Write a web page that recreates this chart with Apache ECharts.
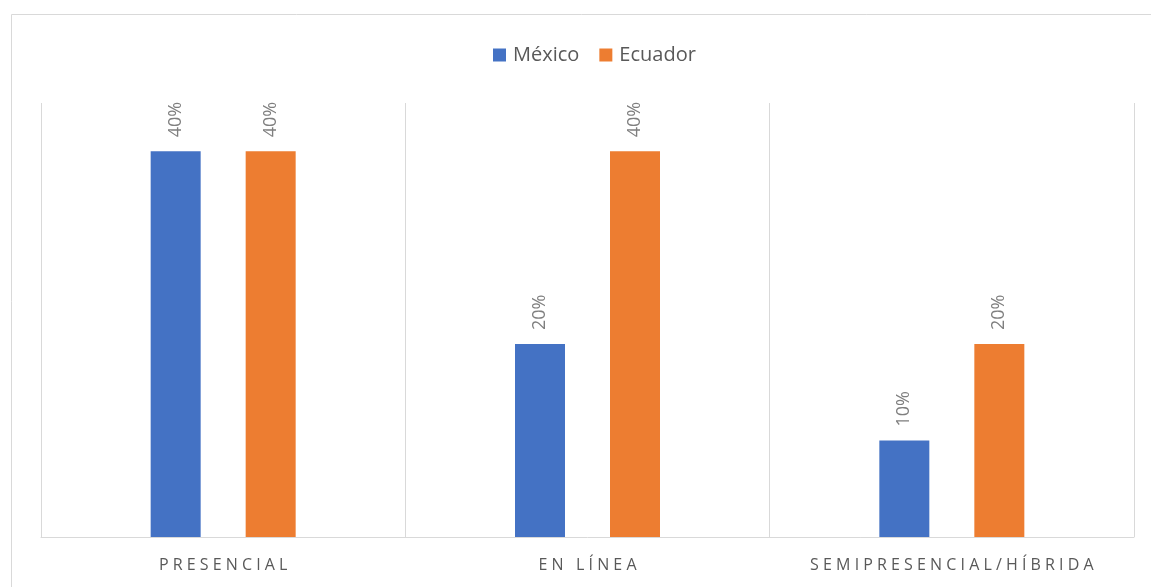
<!DOCTYPE html>
<html><head><meta charset="utf-8">
<script src="https://cdn.jsdelivr.net/npm/echarts@6/dist/echarts.min.js"></script>
<style>html,body{margin:0;padding:0;background:#fff}#c{width:1151px;height:587px}</style>
</head><body><div id="c"></div>
<script>
const categories = ['PRESENCIAL', 'EN LÍNEA', 'SEMIPRESENCIAL/HÍBRIDA'];
const mexico = [40, 20, 10];
const ecuador = [40, 40, 20];
const seriesNames = ['México', 'Ecuador'];

const chart = echarts.init(document.getElementById('c'));
const labelCfg = {
  show: true, position: 'top', rotate: 90, align: 'left', verticalAlign: 'middle',
  distance: 14, color: '#7f7f7f', fontSize: 18, fontFamily: 'Open Sans, sans-serif',
  formatter: p => p.value + '%'
};
chart.setOption({
  animation: false,
  graphic: [{ type: 'rect', shape: { x: 11.5, y: 14.5, width: 1200, height: 700 },
    style: { fill: 'none', stroke: '#d9d9d9', lineWidth: 1 } }],
  legend: {
    top: 40, left: 488, itemWidth: 13, itemHeight: 13, itemGap: 20,
    icon: 'rect',
    textStyle: { color: '#595959', fontSize: 20, fontFamily: 'Open Sans, sans-serif', padding: [0, 0, 0, 2] },
    data: seriesNames
  },
  grid: { left: 41, right: 17, top: 103, bottom: 50 },
  xAxis: {
    type: 'category', data: categories,
    axisLine: { lineStyle: { color: '#d9d9d9', width: 1 } },
    axisTick: { show: false },
    splitLine: { show: true, interval: 0, lineStyle: { color: '#d9d9d9', width: 1 } },
    axisLabel: { interval: 0, color: '#595959', fontSize: 16, margin: 20, fontFamily: 'Open Sans, sans-serif',
      formatter: v => v.split('').join(' ') }
  },
  yAxis: { type: 'value', min: 0, max: 45, show: false, splitLine: { show: false } },
  series: [
    { name: seriesNames[0], type: 'bar', data: mexico, barWidth: 50, barGap: '90%',
      itemStyle: { color: '#4472c4' }, label: labelCfg },
    { name: seriesNames[1], type: 'bar', data: ecuador, barWidth: 50, barGap: '90%',
      itemStyle: { color: '#ed7d31' }, label: labelCfg }
  ]
});
</script></body></html>
